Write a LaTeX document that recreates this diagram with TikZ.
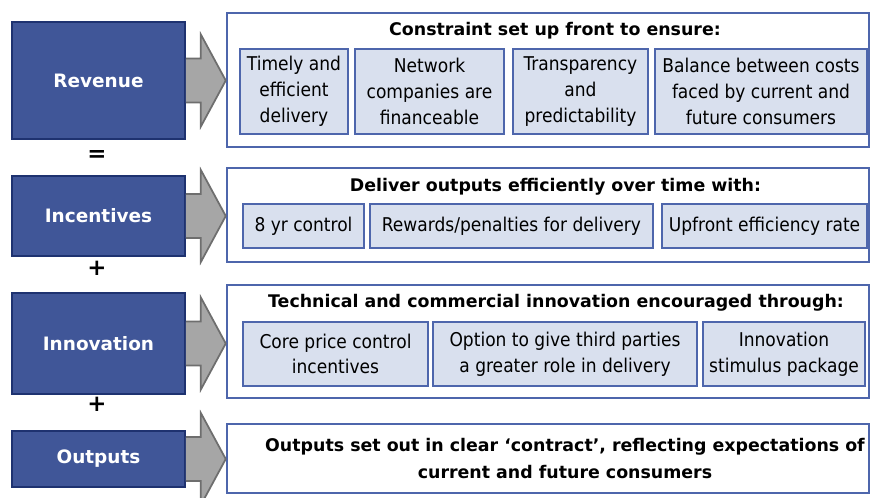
\documentclass[tikz,border=0pt]{standalone}
\usepackage{fontspec}
\setmainfont{DejaVu Sans}
\newfontfamily\condfont{DejaVu Sans Condensed}
\usepackage{xcolor}
\usepackage{tikz}
\usetikzlibrary{calc}

\definecolor{keyblue}{RGB}{64,86,152}
\definecolor{keyedge}{RGB}{30,50,112}
\definecolor{panelblue}{RGB}{78,102,172}
\definecolor{itemfill}{RGB}{217,224,238}
\definecolor{arrowgray}{RGB}{166,166,166}
\definecolor{arrowedge}{RGB}{110,110,110}

\tikzset{
  keybox/.style={draw=keyedge, line width=1pt, fill=keyblue, text=white,
    minimum width=3.46cm, inner sep=0pt, font=\fontsize{10.5}{12}\selectfont\bfseries},
  panel/.style={draw=panelblue, line width=1.5pt, fill=white,
    minimum width=12.84cm, inner sep=0pt},
  item/.style={draw=panelblue, line width=1.4pt, fill=itemfill, align=center,
    inner sep=0pt, font=\condfont\fontsize{10.8}{14.7}\selectfont},
  heading/.style={align=center, font=\fontsize{9.9}{15.3}\selectfont\bfseries},
  blockarrow/.style={fill=arrowgray, draw=arrowedge, line width=1pt, line join=miter},
  sign/.style={font=\fontsize{13}{13}\selectfont\bfseries}
}

\begin{document}
\begin{tikzpicture}[x=0.02cm, y=-0.02cm]
    \useasboundingbox (0,0) rectangle (871,497);

    % Left hand boxes
    \node[keybox, minimum height=2.34cm] (rev) at (98.5,80.5) {Revenue};
    \node[keybox, minimum height=1.60cm] (inc) at (98.5,216) {Incentives};
    \node[keybox, minimum height=2.02cm] (inn) at (98.5,343.5) {Innovation};
    \node[keybox, minimum height=1.12cm] (out) at (98.5,459) {Outputs};

    % Signs between them
    \node[sign] (eq) at (97,156) {=};
    \node[sign] (plusa) at (97,268) {+};
    \node[sign] (plusb) at (97,404) {+};

    % Panels
    \node[panel, minimum height=2.68cm] (revp) at (548,80) {};
    \node[panel, minimum height=1.88cm] (incp) at (548,215) {};
    \node[panel, minimum height=2.26cm] (innp) at (548,341.5) {};
    \node[panel, minimum height=1.38cm] (outp) at (548,458.5) {};

    % Block arrows
    \foreach \src/\dst in {rev/revp, inc/incp, inn/innp, out/outp} {
        \draw[blockarrow] ($(\src.east)+(0,-22)$) -- ($(\src.east)+(15,-22)$)
            -- ($(\src.east)+(15,-46)$) -- (\dst.west |- \src.east)
            -- ($(\src.east)+(15,46)$) -- ($(\src.east)+(15,22)$)
            -- ($(\src.east)+(0,22)$);
    }

    % Headings
    \node[heading] (hrev) at (555,31) {Constraint set up front to ensure:};
    \node[heading] (hinc) at (555.5,187) {Deliver outputs efficiently over time with:};
    \node[heading] (hinn) at (556,303) {Technical and commercial innovation encouraged through:};
    \node[heading] (hout) at (565,458.5) {Outputs set out in clear `contract', reflecting expectations of\\current and future consumers};

    % Revenue items
    \node[item, minimum width=2.16cm, minimum height=1.7cm] (timely) at (294,91.5) {Timely and\\efficient\\delivery};
    \node[item, minimum width=2.98cm, minimum height=1.7cm] (finance) at (429.5,91.5) {Network\\companies are\\financeable};
    \node[item, minimum width=2.70cm, minimum height=1.7cm] (transp) at (580.5,91.5) {Transparency\\and\\predictability};
    \node[item, minimum width=4.24cm, minimum height=1.7cm] (balance) at (761,91.5) {Balance between costs\\faced by current and\\future consumers};

    % Incentive items
    \node[item, minimum width=2.42cm, minimum height=0.88cm] (control) at (303.5,226) {8 yr control};
    \node[item, minimum width=5.66cm, minimum height=0.88cm] (rewards) at (511.5,226) {Rewards/penalties for delivery};
    \node[item, minimum width=4.10cm, minimum height=0.88cm] (upfront) at (764.5,226) {Upfront efficiency rate};

    % Innovation items
    \node[item, minimum width=3.70cm, minimum height=1.28cm] (coreprice) at (335.5,354) {Core price control\\incentives};
    \node[item, minimum width=5.28cm, minimum height=1.28cm] (option) at (565,354) {Option to give third parties\\a greater role in delivery};
    \node[item, minimum width=3.24cm, minimum height=1.28cm] (stimulus) at (784,354) {Innovation\\stimulus package};
\end{tikzpicture}
\end{document}
